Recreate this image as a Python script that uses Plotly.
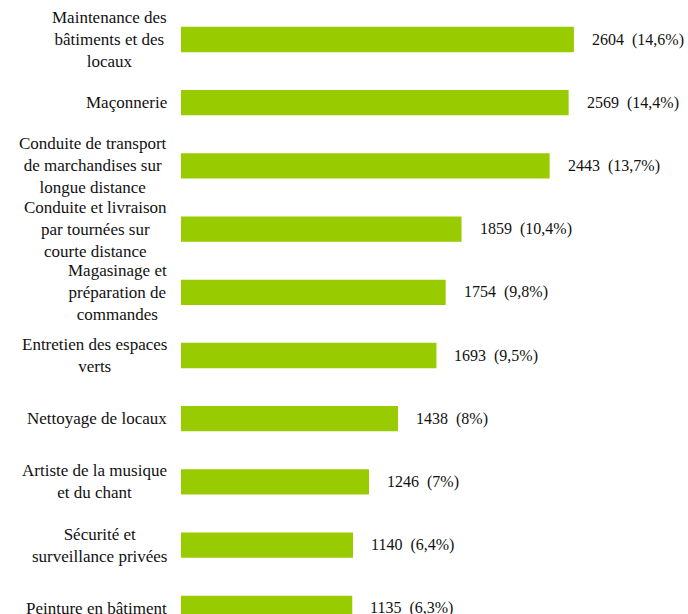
import plotly.graph_objects as go

categories = [
    "Maintenance des<br>bâtiments et des<br>locaux",
    "Maçonnerie",
    "Conduite de transport<br>de marchandises sur<br>longue distance",
    "Conduite et livraison<br>par tournées sur<br>courte distance",
    "Magasinage et<br>préparation de<br>commandes",
    "Entretien des espaces<br>verts",
    "Nettoyage de locaux",
    "Artiste de la musique<br>et du chant",
    "Sécurité et<br>surveillance privées",
    "Peinture en bâtiment",
]
values = [2604, 2569, 2443, 1859, 1754, 1693, 1438, 1246, 1140, 1135]
percents = ["14,6%", "14,4%", "13,7%", "10,4%", "9,8%", "9,5%", "8%", "7%", "6,4%", "6,3%"]

FONT = "Liberation Serif"

fig = go.Figure(
    go.Bar(
        x=values,
        y=categories,
        orientation="h",
        marker=dict(color="#99CC00", line=dict(width=0)),
        width=0.4,
        hoverinfo="skip",
    )
)

annotations = []
for cat, v, p in zip(categories, values, percents):
    annotations.append(dict(
        x=v, y=cat, xref="x", yref="y",
        text=f"{v}\u00a0\u00a0({p})",
        showarrow=False, xanchor="left", yanchor="middle", xshift=16,
        font=dict(family=FONT, size=16, color="#111111"),
    ))
    annotations.append(dict(
        x=0, y=cat, xref="x", yref="y",
        text=cat, align="center",
        showarrow=False, xanchor="right", yanchor="middle", xshift=-12,
        font=dict(family=FONT, size=17, color="#111111"),
    ))

fig.update_layout(
    width=688, height=614,
    margin=dict(l=181, r=0, t=0, b=0),
    paper_bgcolor="white", plot_bgcolor="white",
    font=dict(family=FONT),
    showlegend=False,
    annotations=annotations,
    xaxis=dict(visible=False, range=[0, 3360], fixedrange=True),
    yaxis=dict(
        type="category", categoryorder="array", categoryarray=categories,
        range=[9.09, -0.625], showticklabels=False, showgrid=False,
        zeroline=False, showline=False, ticks="", fixedrange=True,
    ),
)

fig.write_html("out.html", config={"displayModeBar": False})

with open("out.html", encoding="utf-8") as f:
    html = f.read()
html = html.replace("<head>", "<head><style>html,body{margin:0;padding:0;overflow:hidden;}</style>", 1)
with open("out.html", "w", encoding="utf-8") as f:
    f.write(html)
